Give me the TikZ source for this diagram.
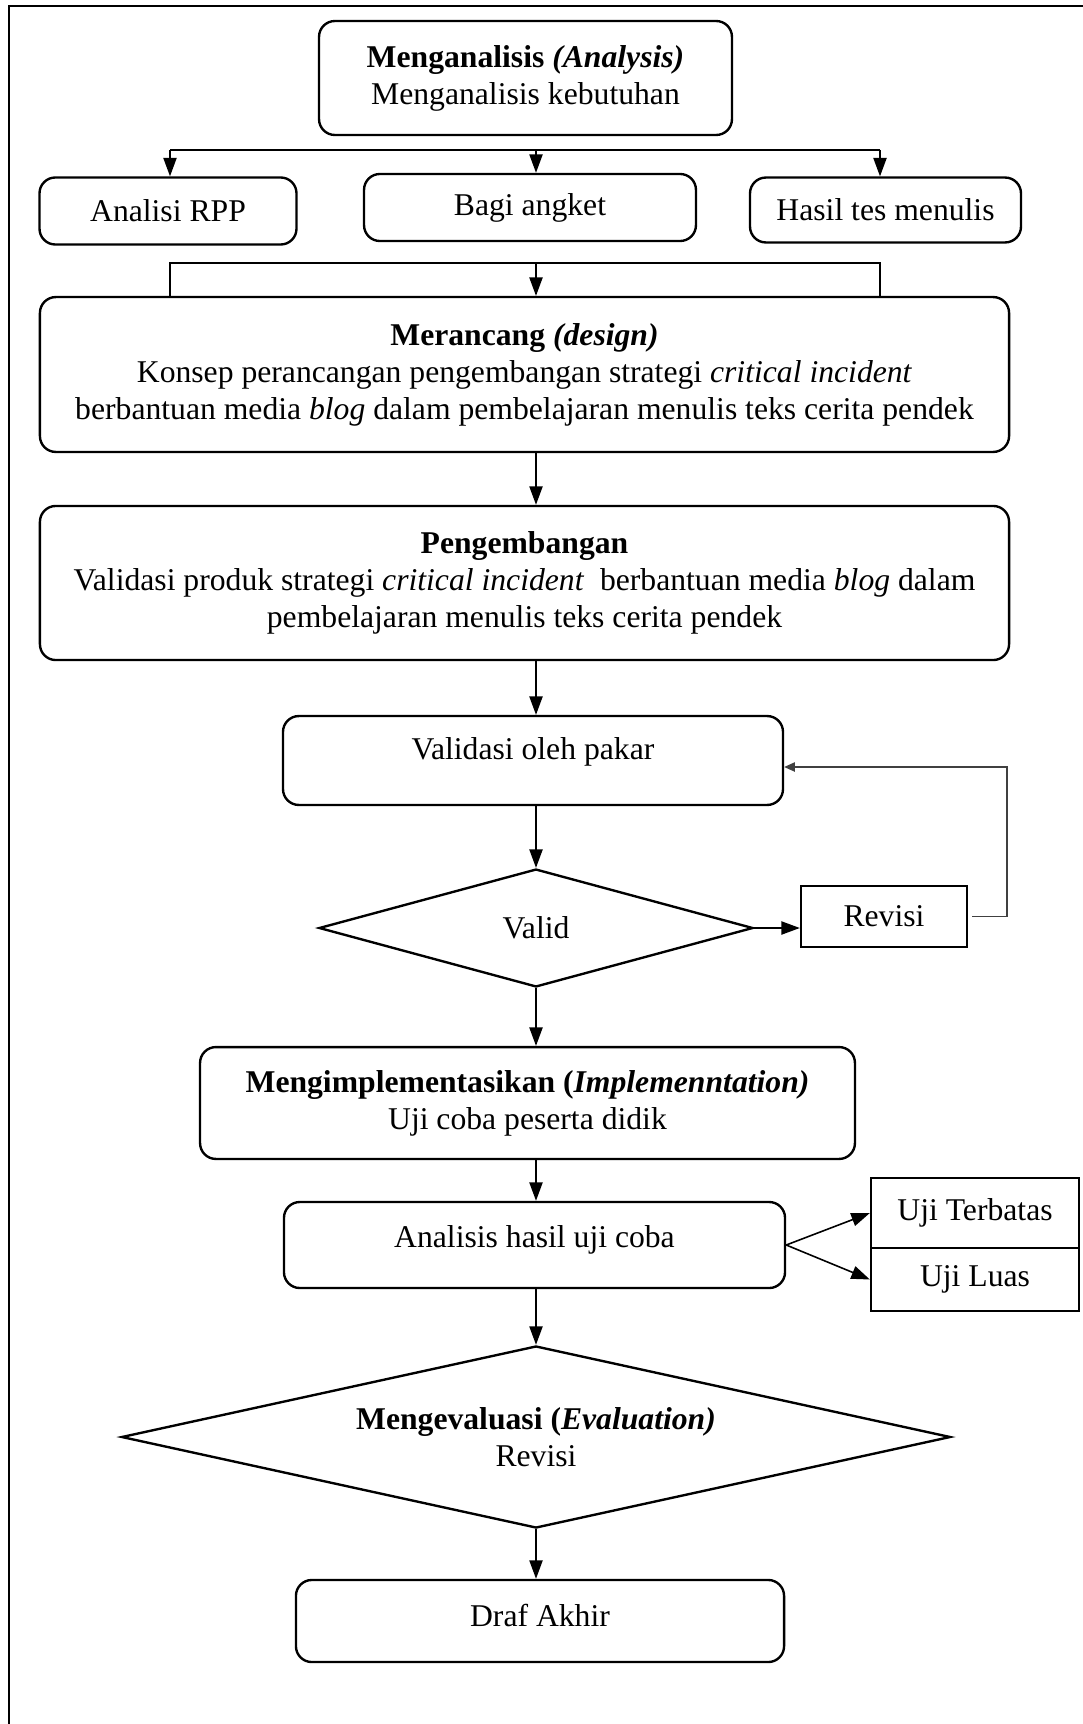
\documentclass[tikz,border=0pt]{standalone}
\usepackage{fontspec}
\setmainfont{Liberation Serif}
\usetikzlibrary{arrows.meta,%
                shapes.geometric}

\tikzset{
  box/.style={draw, line width=0.9pt, rounded corners=6pt, align=center, inner sep=0pt},
  sqbox/.style={draw, line width=0.9pt, align=center, inner sep=0pt},
  decide/.style={draw, diamond, line width=0.9pt, align=center, inner sep=0pt},
  arr/.style={line width=0.6pt, -{Triangle[length=7pt,width=5pt]}},
  back/.style={line width=0.4pt, draw=black!75, -{Triangle[length=4pt,width=3.5pt]}},
  link/.style={line width=0.6pt}
}

\begin{document}
\begin{tikzpicture}[x=0.379pt,y=-0.379pt,every node/.style={font=\fontsize{12}{14}\selectfont}]
\useasboundingbox (0,0) rectangle (1083,1724);
% frame
\draw[line width=0.8pt] (9,1730) -- (9,6) -- (1090,6);
\coordinate (col) at (536,0);

% analysis
\node[box, minimum width=156.5pt, minimum height=43.2pt] (analisis) at (525.5,78) {\textbf{Menganalisis \textit{(Analysis)}}\\Menganalisis kebutuhan};
\node[box, minimum width=97.4pt, minimum height=25.4pt] (rpp) at (168,211) {Analisi RPP};
\node[box, minimum width=125.8pt, minimum height=25.4pt] (angket) at (530,207.5) {Bagi angket};
\node[box, minimum width=102.7pt, minimum height=24.6pt] (tes) at (885.5,210) {Hasil tes menulis};
\coordinate (b1) at (170,150);
\coordinate (b3) at (880,150);
\draw[link] (b1) -- (b3);
\draw[arr] (b1) -- (b1 |- rpp.north);
\draw[arr] (col |- b1) -- (col |- angket.north);
\draw[arr] (b3) -- (b3 |- tes.north);

% design
\node[box, minimum width=367.3pt, minimum height=58.7pt] (rancang) at (524.5,374.5) {\textbf{Merancang \textit{(design)}}\\Konsep perancangan pengembangan strategi \textit{critical incident}\\berbantuan media \textit{blog} dalam pembelajaran menulis teks cerita pendek};
\coordinate (c1) at (170,263);
\coordinate (c3) at (880,263);
\draw[link] (c1 |- rancang.north) -- (c1) -- (c3) -- (c3 |- rancang.north);
\draw[arr] (col |- c1) -- (col |- rancang.north);

% development
\node[box, minimum width=367.3pt, minimum height=58.4pt] (kembang) at (524.5,583) {\textbf{Pengembangan}\\Validasi produk strategi \textit{critical incident}\ \ berbantuan media \textit{blog} dalam\\pembelajaran menulis teks cerita pendek};
\draw[arr] (rancang.south -| col) -- (kembang.north -| col);
\node[box, minimum width=189.5pt, minimum height=33.7pt, text depth=9pt] (pakar) at (533,760.5) {Validasi oleh pakar};
\draw[arr] (kembang.south -| col) -- (pakar.north -| col);
\node[decide, aspect=3.68, minimum width=164.5pt, minimum height=44.7pt] (valid) at (536,928) {Valid};
\draw[arr] (pakar.south -| col) -- (valid.north);
\node[sqbox, minimum width=62.9pt, minimum height=23.1pt] (revisi) at (884,916.5) {Revisi};
\draw[arr] (valid.east) -- (valid.east -| revisi.west);
\coordinate (r1) at (1007,767);
\draw[back] ([xshift=1.5pt]revisi.east) -| (r1) -- (r1 -| pakar.east);

% implementation
\node[box, minimum width=248.2pt, minimum height=42.4pt] (uji) at (527.5,1103) {\textbf{Mengimplementasikan (\textit{Implemenntation)}}\\Uji coba peserta didik};
\draw[arr] (valid.south) -- (valid.south |- uji.north);
\node[box, minimum width=189.9pt, minimum height=32.6pt, text depth=6.4pt] (hasil) at (534.5,1245) {Analisis hasil uji coba};
\draw[arr] (uji.south -| col) -- (hasil.north -| col);
\node[sqbox, minimum width=78.8pt, minimum height=26.5pt] (terbatas) at (975,1213) {Uji Terbatas};
\node[sqbox, minimum width=78.8pt, minimum height=23.9pt] (luas) at (975,1279.5) {Uji Luas};
\draw[arr] (hasil.east) -- (terbatas.west);
\draw[arr] (hasil.east) -- (luas.west);

% evaluation
\node[decide, aspect=4.55, minimum width=314.2pt, minimum height=69pt] (evaluasi) at (536,1437) {\textbf{Mengevaluasi (\textit{Evaluation)}}\\Revisi};
\draw[arr] (hasil.south -| col) -- (evaluasi.north);
\node[box, minimum width=185pt, minimum height=31.1pt, text depth=4.6pt] (draf) at (540,1621) {Draf Akhir};
\draw[arr] (evaluasi.south) -- (evaluasi.south |- draf.north);
\end{tikzpicture}
\end{document}
